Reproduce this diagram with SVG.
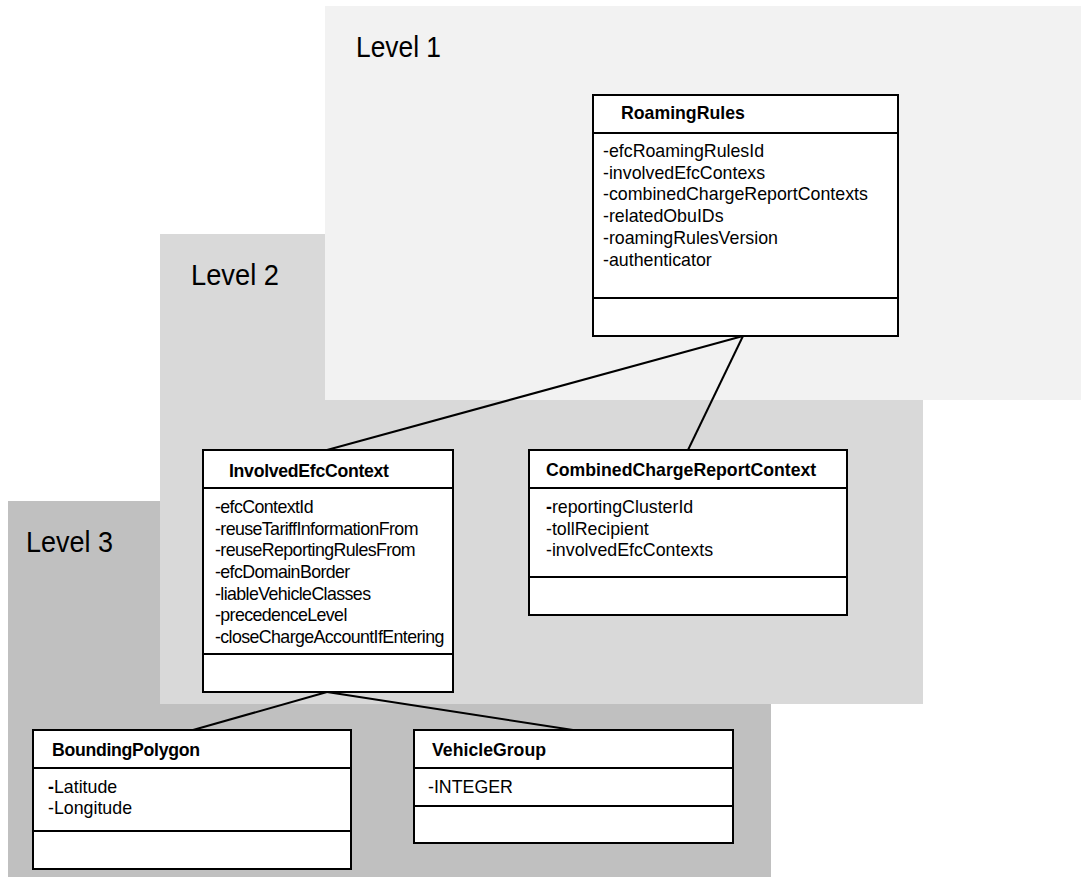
<svg xmlns="http://www.w3.org/2000/svg" width="1081" height="877" viewBox="0 0 1081 877">
<style>
.lvl{font-family:"Liberation Sans",Arial,sans-serif;font-size:30px;fill:#000}
.box{fill:#fff;stroke:#000;stroke-width:2}
.sep{stroke:#000;stroke-width:2}
.ttl{font-family:"Liberation Sans",Arial,sans-serif;font-size:17.7px;font-weight:bold;fill:#000}
.att{font-family:"Liberation Sans",Arial,sans-serif;font-size:17.8px;fill:#000}
.cond{letter-spacing:-0.6px}
.tc{letter-spacing:-0.3px}
.conn{stroke:#000;stroke-width:2;fill:none}
</style>
<rect width="1081" height="877" fill="#fff"/>
<g id="level3">
<rect x="8" y="501" width="763" height="376" fill="#c0c0c0"/>
<text class="lvl" x="26" y="552" textLength="87" lengthAdjust="spacingAndGlyphs">Level 3</text>
</g>
<g id="level2">
<rect x="160" y="234" width="763" height="470" fill="#d9d9d9"/>
<text class="lvl" x="191" y="285" textLength="88" lengthAdjust="spacingAndGlyphs">Level 2</text>
</g>
<g id="level1">
<rect x="325" y="6" width="756" height="394" fill="#f2f2f2"/>
<text class="lvl" x="356" y="57" textLength="85" lengthAdjust="spacingAndGlyphs">Level 1</text>
</g>
<g id="connectors">
<line class="conn" x1="743" y1="336" x2="327" y2="450"/>
<line class="conn" x1="743" y1="336" x2="688" y2="450"/>
<line class="conn" x1="327" y1="692" x2="193" y2="730"/>
<line class="conn" x1="327" y1="692" x2="573" y2="730"/>
</g>
<g id="RoamingRules">
<rect class="box" x="593" y="95" width="305" height="241"/>
<line class="sep" x1="593" y1="133" x2="898" y2="133"/>
<line class="sep" x1="593" y1="298" x2="898" y2="298"/>
<text class="ttl" x="621" y="119">RoamingRules</text>
<text class="att" x="603" y="157">-efcRoamingRulesId</text>
<text class="att" x="603" y="179">-involvedEfcContexs</text>
<text class="att" x="603" y="200">-combinedChargeReportContexts</text>
<text class="att" x="603" y="222">-relatedObuIDs</text>
<text class="att" x="603" y="244">-roamingRulesVersion</text>
<text class="att" x="603" y="266">-authenticator</text>
</g>
<g id="InvolvedEfcContext">
<rect class="box" x="203" y="450" width="250" height="242"/>
<line class="sep" x1="203" y1="488" x2="453" y2="488"/>
<line class="sep" x1="203" y1="654" x2="453" y2="654"/>
<text class="ttl tc" x="229" y="477">InvolvedEfcContext</text>
<text class="att cond" x="215" y="513">-efcContextId</text>
<text class="att cond" x="215" y="535">-reuseTariffInformationFrom</text>
<text class="att cond" x="215" y="556">-reuseReportingRulesFrom</text>
<text class="att cond" x="215" y="578">-efcDomainBorder</text>
<text class="att cond" x="215" y="600">-liableVehicleClasses</text>
<text class="att cond" x="215" y="621">-precedenceLevel</text>
<text class="att cond" x="215" y="643">-closeChargeAccountIfEntering</text>
</g>
<g id="CombinedChargeReportContext">
<rect class="box" x="529" y="450" width="318" height="165"/>
<line class="sep" x1="529" y1="488" x2="847" y2="488"/>
<line class="sep" x1="529" y1="577" x2="847" y2="577"/>
<text class="ttl" x="546" y="476">CombinedChargeReportContext</text>
<text class="att" x="546" y="513"><tspan font-weight="bold">-</tspan>reportingClusterId</text>
<text class="att" x="546" y="535">-tollRecipient</text>
<text class="att" x="546" y="556">-involvedEfcContexts</text>
</g>
<g id="BoundingPolygon">
<rect class="box" x="33" y="730" width="318" height="139"/>
<line class="sep" x1="33" y1="768" x2="351" y2="768"/>
<line class="sep" x1="33" y1="831" x2="351" y2="831"/>
<text class="ttl tc" x="52" y="756">BoundingPolygon</text>
<text class="att" x="48" y="793"><tspan font-weight="bold">-</tspan>Latitude</text>
<text class="att" x="48" y="814">-Longitude</text>
</g>
<g id="VehicleGroup">
<rect class="box" x="414" y="730" width="319" height="113"/>
<line class="sep" x1="414" y1="768" x2="733" y2="768"/>
<line class="sep" x1="414" y1="806" x2="733" y2="806"/>
<text class="ttl" x="432" y="756">VehicleGroup</text>
<text class="att" x="428" y="793">-INTEGER</text>
</g>
</svg>
